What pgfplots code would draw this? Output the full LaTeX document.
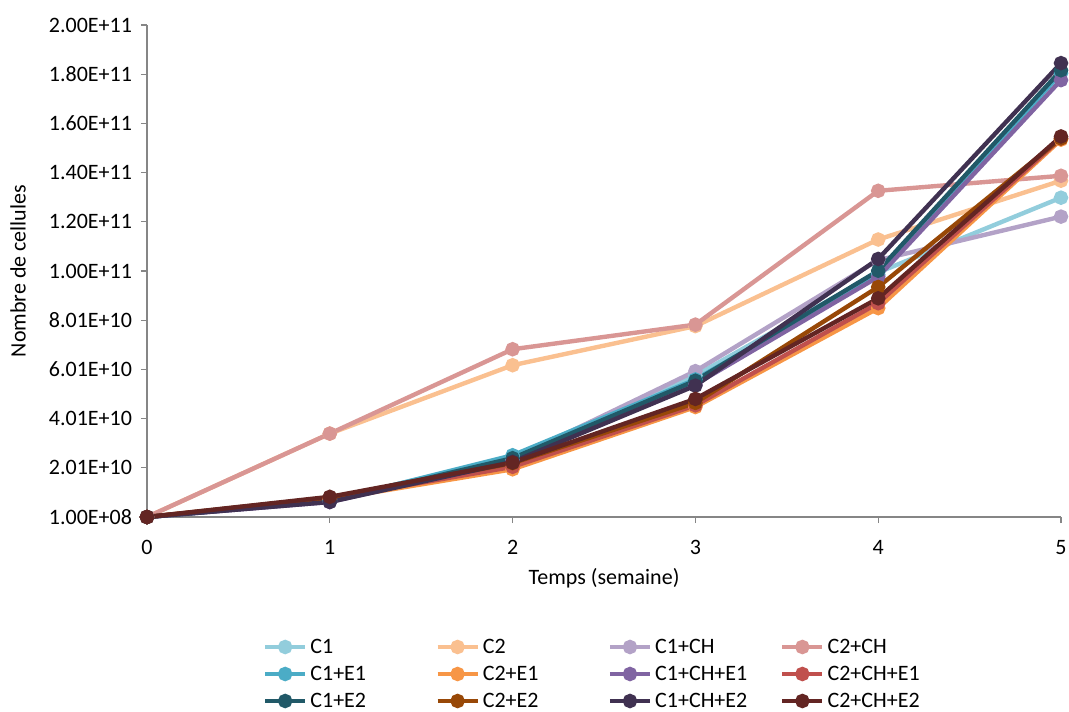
\documentclass[border=0pt]{standalone}
\usepackage{pgfplots}
\pgfplotsset{compat=1.18}
\usepackage{fontspec}
\setmainfont{Carlito}
\definecolor{cA}{HTML}{92CDDC}
\definecolor{cB}{HTML}{FAC090}
\definecolor{cC}{HTML}{B3A2C7}
\definecolor{cD}{HTML}{D99694}
\definecolor{cE}{HTML}{4BACC6}
\definecolor{cF}{HTML}{F79646}
\definecolor{cG}{HTML}{8064A2}
\definecolor{cH}{HTML}{C0504D}
\definecolor{cI}{HTML}{215968}
\definecolor{cJ}{HTML}{984807}
\definecolor{cK}{HTML}{403151}
\definecolor{cL}{HTML}{632523}
\definecolor{axgray}{HTML}{868686}
\begin{document}
\begin{tikzpicture}
\useasboundingbox (-73.5pt,-97pt) rectangle (461pt,258.5pt);
\begin{axis}[
  at={(0,0)}, anchor=south west,
  scale only axis, width=457pt, height=246pt,
  xmin=0, xmax=5, ymin=0.01, ymax=20.01,
  axis lines=left, axis line style={-, draw=axgray, line width=0.6pt},
  tick style={draw=axgray, line width=0.6pt},
  tick align=outside, major tick length=3pt,
  xtick={0,1,2,3,4,5},
  ytick={0.01,2.01,4.01,6.01,8.01,10.01,12.01,14.01,16.01,18.01,20.01},
  yticklabels={1.00E+08,2.01E+10,4.01E+10,6.01E+10,8.01E+10,1.00E+11,1.20E+11,1.40E+11,1.60E+11,1.80E+11,2.00E+11},
  /pgf/number format/assume math mode=true,
  tick label style={font=\fontsize{11}{13}\selectfont},
  xticklabel style={yshift=-5pt},
  yticklabel style={xshift=-1pt},
  label style={font=\fontsize{11}{13}\selectfont},
  xlabel={Temps (semaine)},
  ylabel={Nombre de cellules},
  xlabel style={at={(axis description cs:0.5,-0.124)}, anchor=center},
  ylabel style={at={(axis description cs:-0.1411,0.5)}, anchor=center},
  clip=false,
  every axis plot/.append style={line width=2.2pt, mark=*, mark size=2.5pt, mark options={solid}},
  legend image code/.code={\draw[mark repeat=2,mark phase=2] plot coordinates {(0pt,0pt) (10pt,0pt) (20pt,0pt)};},
  legend columns=4,
  legend style={at={(0.1269,-0.2449)}, anchor=north west, draw=none, fill=none,
    inner sep=0pt, outer sep=0pt, row sep=4pt, column sep=0pt,
    font=\fontsize{11}{13}\selectfont,
    nodes={inner xsep=1.5pt, inner ysep=0pt, text height=8pt, text depth=1.5pt}},
  legend cell align=left,
]
\addplot[color=cA] coordinates {(0,0.01) (1,0.70) (2,2.45) (3,5.76) (4,9.95) (5,12.99)};
\addplot[color=cB] coordinates {(0,0.01) (1,3.40) (2,6.18) (3,7.77) (4,11.29) (5,13.68)};
\addplot[color=cC] coordinates {(0,0.01) (1,0.65) (2,2.35) (3,5.94) (4,10.45) (5,12.22)};
\addplot[color=cD] coordinates {(0,0.01) (1,3.40) (2,6.83) (3,7.83) (4,13.27) (5,13.88)};
\addplot[color=cE] coordinates {(0,0.01) (1,0.66) (2,2.52) (3,5.60) (4,9.85) (5,18.05)};
\addplot[color=cF] coordinates {(0,0.01) (1,0.72) (2,1.95) (3,4.48) (4,8.50) (5,15.35)};
\addplot[color=cG] coordinates {(0,0.01) (1,0.62) (2,2.30) (3,5.40) (4,9.77) (5,17.77)};
\addplot[color=cH] coordinates {(0,0.01) (1,0.76) (2,2.05) (3,4.55) (4,8.70) (5,15.40)};
\addplot[color=cI] coordinates {(0,0.01) (1,0.66) (2,2.40) (3,5.55) (4,10.02) (5,18.17)};
\addplot[color=cJ] coordinates {(0,0.01) (1,0.80) (2,2.20) (3,4.65) (4,9.36) (5,15.40)};
\addplot[color=cK] coordinates {(0,0.01) (1,0.62) (2,2.25) (3,5.35) (4,10.50) (5,18.46)};
\addplot[color=cL] coordinates {(0,0.01) (1,0.83) (2,2.22) (3,4.81) (4,8.90) (5,15.48)};
\legend{\makebox[61pt][l]{C1},\makebox[61pt][l]{C2},\makebox[61pt][l]{C1+CH},\makebox[61pt][l]{C2+CH},
\makebox[61pt][l]{C1+E1},\makebox[61pt][l]{C2+E1},\makebox[61pt][l]{C1+CH+E1},\makebox[61pt][l]{C2+CH+E1},
\makebox[61pt][l]{C1+E2},\makebox[61pt][l]{C2+E2},\makebox[61pt][l]{C1+CH+E2},\makebox[61pt][l]{C2+CH+E2}}
\end{axis}
\end{tikzpicture}
\end{document}
